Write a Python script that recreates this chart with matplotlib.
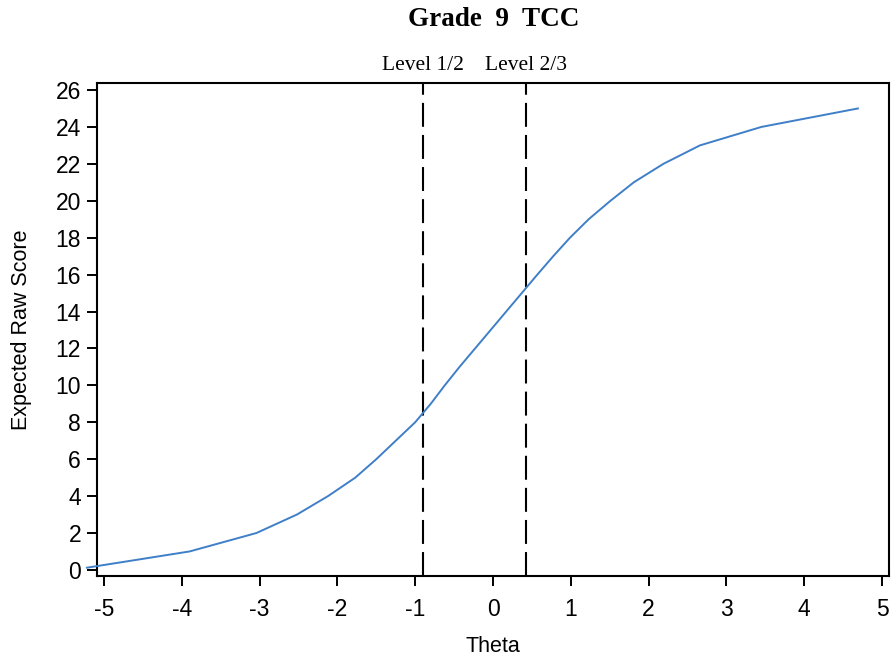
import matplotlib
matplotlib.use("Agg")
import matplotlib.pyplot as plt

# raw score points
THETA = [-5.22, -3.90, -3.04, -2.52, -2.12, -1.77, -1.50, -1.25, -1.00, -0.80,
         -0.62, -0.43, -0.23, -0.03, 0.17, 0.37, 0.57, 0.775, 0.99, 1.23,
         1.51, 1.81, 2.19, 2.66, 3.45, 4.69]
SCORE = [0.12, 1, 2, 3, 4, 5, 6, 7, 8, 9,
         10, 11, 12, 13, 14, 15, 16, 17, 18, 19,
         20, 21, 22, 23, 24, 25]

CUT_LABELS = ["Level 1/2", "Level 2/3"]
CUT_THETA = [-0.90, 0.43]

X_TICKS = [-5, -4, -3, -2, -1, 0, 1, 2, 3, 4, 5]
Y_TICKS = list(range(0, 27, 2))

SANS = "Liberation Sans"
SERIF = "Liberation Serif"


def main() -> int:
    fig = plt.figure(figsize=(8.93, 6.66), dpi=100)
    ax = fig.add_axes([97 / 893, 1 - 576 / 666, (889 - 97) / 893, (576 - 83) / 666])

    ax.plot(THETA, SCORE, color="#3F7FC8", lw=1.4, clip_on=False, zorder=3)

    for lab, th in zip(CUT_LABELS, CUT_THETA):
        ax.axvline(th, color="black", lw=1.5, linestyle=(0, (11.5, 3.9)), zorder=2)
        ax.text(th, 26.38 + 0.45, lab, ha="center", va="bottom",
                family=SERIF, fontsize=15.5)

    ax.set_xlim(-5.09, 5.09)
    ax.set_ylim(-0.33, 26.38)
    ax.set_xticks(X_TICKS)
    ax.set_yticks(Y_TICKS)
    ax.set_xticklabels([str(t) for t in X_TICKS], family=SANS, fontsize=16.5)
    ax.set_yticklabels([str(t) for t in Y_TICKS], family=SANS, fontsize=16.5)
    ax.tick_params(direction="out", length=7.5, width=1.4)
    ax.tick_params(axis="x", pad=8)
    ax.tick_params(axis="y", pad=4)

    for sp in ax.spines.values():
        sp.set_linewidth(1.5)

    ax.set_xlabel("Theta", family=SANS, fontsize=15.5, labelpad=11)
    ax.set_ylabel("Expected Raw Score", family=SANS, fontsize=15.5, labelpad=17)

    fig.text(494 / 893, 1 - 20 / 666, "Grade  9  TCC", ha="center", va="center",
             family=SERIF, fontweight="bold", fontsize=19.5)

    fig.savefig("out.png", dpi=100)
    plt.close(fig)
    return 0


if __name__ == "__main__":
    raise SystemExit(main())
